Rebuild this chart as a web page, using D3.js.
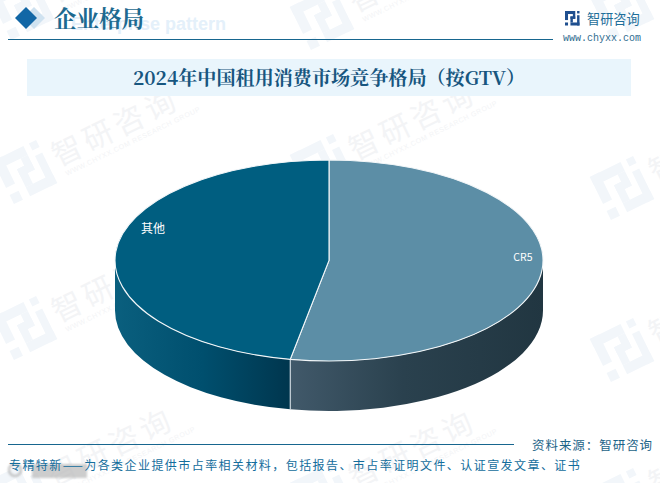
<!DOCTYPE html>
<html><head><meta charset="utf-8">
<script src="https://cdn.jsdelivr.net/npm/d3@7/dist/d3.min.js"></script>
<style>html,body{margin:0;padding:0;background:#fff}svg{display:block}</style>
</head><body>
<svg id="c" width="660" height="483"></svg>
<script>
const categories = ["CR5", "其他"];
const shares = [52.9, 47.1];
const chartTitle = "2024年中国租用消费市场竞争格局（按GTV）";
const sectionTitle = "企业格局";
const sectionGhost = "Enterprise pattern";
const brandName = "智研咨询";
const brandUrl = "www.chyxx.com";
const sourceNote = "资料来源：智研咨询";
const footerNote = "专精特新——为各类企业提供市占率相关材料，包括报告、市占率证明文件、认证宣发文章、证书";
const topColors = ["#5c8ea6", "#005e80"];
const wallStops = [[[0,"#41596a"],[.45,"#2a414e"],[1,"#213641"]], [[0,"#0a5f7e"],[.5,"#004f6e"],[1,"#00364e"]]];

const serif = "'Noto Serif CJK SC','Liberation Serif','DejaVu Serif','Noto Sans CJK SC',serif";
const sans = "'Noto Sans CJK SC','Noto Sans',sans-serif";
const svg = d3.select("#c");
const defs = svg.append("defs");
const blur = defs.append("filter").attr("id","soft"); blur.append("feGaussianBlur").attr("stdDeviation",1.1);

// logo mark on a 24-unit grid
const logoRects = [[0,0,17,5],[0,0,5,15],[0,19,5,5],[9,9,8,4],[13,5,4,8],[9,9,4,10],[9,19,15,5],[20,0,4,4],[20,7,4,17]];
function logo(g, s, fill){
  const m = s/24;
  g.selectAll("rect.l").data(logoRects).join("rect").attr("class","l")
    .attr("x",d=>d[0]*m).attr("y",d=>d[1]*m).attr("width",d=>d[2]*m).attr("height",d=>d[3]*m).attr("fill",fill);
}
// watermark (anchored at the logo centre)
const wmPlaces = [[22,8],[322,18],[622,8],[25,172],[322,166],[622,188],[25,328],[322,330],[622,350],[20,492],[322,494],[622,500]];
const wm = svg.append("g");
wmPlaces.forEach(p=>{
  const g = wm.append("g").attr("transform",`translate(${p[0]},${p[1]}) rotate(-26)`);
  const lg = g.append("g").attr("transform","translate(-24,-24)"); logo(lg,48,"#f2f6fa");
  g.append("text").attr("x",32).attr("y",10).attr("font-family",sans).attr("font-size",30).attr("font-weight",400).attr("fill","#f3f4f6").attr("letter-spacing",4.5).text(brandName);
  g.append("text").attr("x",36).attr("y",22).attr("font-family","'Liberation Sans',sans-serif").attr("font-size",7).attr("fill","#f3f4f6").attr("letter-spacing",.6).text("WWW.CHYXX.COM RESEARCH GROUP");
});

// header
svg.append("path").attr("d","M34 7 L45 18 L34 29 L23 18Z").attr("fill","#cfe2f0");
svg.append("path").attr("d","M26 7 L37 18 L26 29 L15 18Z").attr("fill","#1267a6");
svg.append("text").attr("x",226).attr("y",30).attr("text-anchor","end").attr("font-family","'Liberation Sans',sans-serif").attr("font-size",18).attr("font-weight",700).attr("fill","#e4f0fa").text(sectionGhost);
svg.append("text").attr("x",54).attr("y",27).attr("font-family",serif).attr("font-size",22.5).attr("font-weight",700).attr("fill","#1d6a90").text(sectionTitle);
svg.append("line").attr("x1",8).attr("x2",553).attr("y1",39.5).attr("y2",39.5).attr("stroke","#17668f").attr("stroke-width",1);
const lg = svg.append("g").attr("transform","translate(565,11)"); logo(lg,14.5,"#1f4f8f");
svg.append("text").attr("x",587).attr("y",24).attr("font-family",sans).attr("font-size",13.2).attr("fill","#1f6f9a").text(brandName);
svg.append("text").attr("x",563).attr("y",41).attr("font-family","'Liberation Mono',monospace").attr("font-size",10).attr("fill","#2f6d8f").text(brandUrl);

// title band
svg.append("rect").attr("x",27).attr("y",59).attr("width",604).attr("height",37).attr("fill","#e9f5fc");
svg.append("text").attr("x",329).attr("y",85).attr("text-anchor","middle").attr("font-family",serif).attr("font-size",19.1).attr("font-weight",700).attr("fill","#17567f").text(chartTitle);

// pie
const cx=329, cy=260.5, rx=214, ry=100.5, depth=50;
const pie = d3.pie().sort(null).value(d=>d.v);
const slices = pie(categories.map((c,i)=>({c,v:shares[i],i})));
const arc = d3.arc().innerRadius(0).outerRadius(rx);
const pt = (a,dy=0,k=1)=>[cx+rx*k*Math.sin(a), cy-ry*k*Math.cos(a)+dy];
const chart = svg.append("g");

slices.forEach((s,i)=>{
  const a0=Math.max(s.startAngle,Math.PI/2), a1=Math.min(s.endAngle,Math.PI*1.5);
  if(a1<=a0) return;
  const p0=pt(a0), p1=pt(a1);
  const xs=[p0[0],p1[0]];
  const id="w"+i;
  const gr=defs.append("linearGradient").attr("id",id).attr("gradientUnits","userSpaceOnUse")
    .attr("x1",d3.min(xs)).attr("x2",d3.max(xs)).attr("y1",0).attr("y2",0);
  wallStops[i].forEach(st=>gr.append("stop").attr("offset",st[0]).attr("stop-color",st[1]));
  const sweep = `A${rx} ${ry} 0 0 1 ${p1[0]} ${p1[1]}`;
  const back = `A${rx} ${ry} 0 0 0 ${p0[0]} ${p0[1]+depth}`;
  chart.append("path").attr("d",`M${p0[0]} ${p0[1]} ${sweep} L${p1[0]} ${p1[1]+depth} ${back} Z`)
    .attr("fill",`url(#${id})`);
});
// seam between walls
const seam = pt(slices[0].endAngle);
chart.append("line").attr("x1",seam[0]).attr("x2",seam[0]).attr("y1",seam[1]).attr("y2",seam[1]+depth).attr("stroke","#e6edf2").attr("stroke-width",1);

chart.append("g").attr("transform",`translate(${cx},${cy}) scale(1,${ry/rx})`)
  .selectAll("path").data(slices).join("path")
  .attr("d",arc).attr("fill",(d,i)=>topColors[i])
  .attr("stroke","#f2f6f8").attr("stroke-width",1.1).attr("vector-effect","non-scaling-stroke");

// slice labels, placed from each slice's mid angle
const labelK=[0.91,0.826], labelDy=[-12,-24], labelSize=[10.5,12];
const labelAt=(d,i)=>pt((d.startAngle+d.endAngle)/2,labelDy[i],labelK[i]);
chart.selectAll("text.lab").data(slices).join("text").attr("class","lab")
  .attr("x",(d,i)=>labelAt(d,i)[0]).attr("y",(d,i)=>labelAt(d,i)[1]+4)
  .attr("text-anchor","middle").attr("font-family",sans).attr("font-size",(d,i)=>labelSize[i]).attr("font-weight",400).attr("fill","#fff").text(d=>d.data.c);

// faint stamp under the footer text
const stamp = svg.append("g").attr("filter","url(#soft)").attr("opacity",.75);
stamp.append("circle").attr("cx",15).attr("cy",470).attr("r",6).attr("fill","none").attr("stroke","#b5b5b5").attr("stroke-width",2.5);
stamp.append("rect").attr("x",32).attr("y",464).attr("width",55).attr("height",14).attr("fill","#bdbdbd");

// footer
svg.append("line").attr("x1",8).attr("x2",514).attr("y1",444.5).attr("y2",444.5).attr("stroke","#17668f");
svg.append("text").attr("x",532).attr("y",450).attr("font-family",sans).attr("font-size",12.5).attr("letter-spacing",.95).attr("fill","#1d6488").text(sourceNote);
svg.append("text").attr("x",9).attr("y",470).attr("font-family",sans).attr("font-size",12).attr("letter-spacing",1.43).attr("fill","#136d9c").text(footerNote);
</script>
</body></html>
